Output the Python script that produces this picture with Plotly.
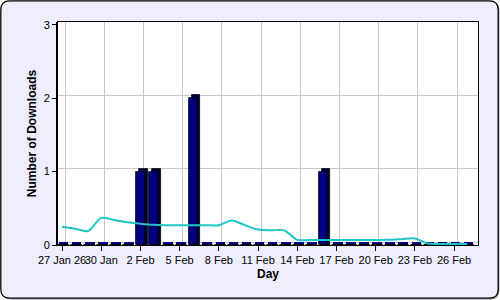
import plotly.graph_objects as go

# ---------------- data ----------------
days = ["27 Jan", "28 Jan", "29 Jan", "30 Jan", "31 Jan", "1 Feb", "2 Feb", "3 Feb",
        "4 Feb", "5 Feb", "6 Feb", "7 Feb", "8 Feb", "9 Feb", "10 Feb", "11 Feb",
        "12 Feb", "13 Feb", "14 Feb", "15 Feb", "16 Feb", "17 Feb", "18 Feb", "19 Feb",
        "20 Feb", "21 Feb", "22 Feb", "23 Feb", "24 Feb", "25 Feb", "26 Feb", "27 Feb"]
downloads = [0, 0, 0, 0, 0, 0, 1, 1, 0, 0, 2, 0, 0, 0, 0, 0,
             0, 0, 0, 0, 1, 0, 0, 0, 0, 0, 0, 0, 0, 0, 0, 0]
trend = [0.25, 0.22, 0.19, 0.37, 0.34, 0.31, 0.29, 0.275, 0.27, 0.27, 0.27, 0.27,
         0.27, 0.335, 0.27, 0.21, 0.20, 0.20, 0.07, 0.068, 0.068, 0.068, 0.068, 0.068,
         0.068, 0.07, 0.08, 0.09, 0.02, 0.015, 0.015, 0.015]
tick_days = ["27 Jan", "30 Jan", "2 Feb", "5 Feb", "8 Feb", "11 Feb", "14 Feb",
             "17 Feb", "20 Feb", "23 Feb", "26 Feb"]
tick_text = ["27 Jan 26", "30 Jan", "2 Feb", "5 Feb", "8 Feb", "11 Feb", "14 Feb",
             "17 Feb", "20 Feb", "23 Feb", "26 Feb"]
y_ticks = [0, 1, 2, 3]

# ---------------- geometry ----------------
W, H = 500, 300
L, R, T, B = 58, 22, 22, 55
pw, ph = W - L - R, H - T - B
X_RANGE = [-0.31, 31.83]
Y_RANGE = [0, 3.04]
px_day = pw / (X_RANGE[1] - X_RANGE[0])
px_unit = ph / (Y_RANGE[1] - Y_RANGE[0])
DX = 3.0 / px_day      # 3D depth offset (x) in data units
DY = 3.0 / px_unit     # 3D depth offset (y) in data units

idx = list(range(len(days)))
tick_idx = [days.index(d) for d in tick_days]

FONT = "Liberation Sans, Arial, sans-serif"
NAVY = "#000080"

fig = go.Figure()

# trend line (drawn under the bars)
fig.add_trace(go.Scatter(x=idx, y=trend, mode="lines", xaxis="x2", yaxis="y2",
                         line=dict(color="#22C4C4", width=2, shape="spline", smoothing=0.8),
                         hoverinfo="skip", showlegend=False))
# floor of the 3D bars (zero-height tops)
fig.add_trace(go.Bar(x=[i + DX / 2 for i in idx], y=[DY for _ in idx], base=0,
                     width=0.74, xaxis="x2", yaxis="y2",
                     marker=dict(color=NAVY, line=dict(width=0)),
                     showlegend=False, hoverinfo="skip"))
# back (depth) faces of the 3D bars
fig.add_trace(go.Bar(x=[i + DX for i in idx], y=[v + DY if v > 0 else 0 for v in downloads],
                     base=0, width=0.62, xaxis="x2", yaxis="y2",
                     marker=dict(color="#000040", line=dict(color="black", width=0.8)),
                     showlegend=False, hoverinfo="skip"))
# front faces
fig.add_trace(go.Bar(x=idx, y=downloads, width=0.62, xaxis="x2", yaxis="y2",
                     marker=dict(color=NAVY, line=dict(color="black", width=0.8)),
                     showlegend=False))
# dummy trace on grid axes
fig.add_trace(go.Scatter(x=[0], y=[0], mode="markers", marker=dict(opacity=0),
                         hoverinfo="skip", showlegend=False))

# paper coords helpers
def pxx(p):
    return (p - L) / pw
def pxy(p):
    return (H - B - p) / ph

def rrect(x0, y0, x1, y1, r):
    X0, X1 = pxx(x0), pxx(x1)
    Y0, Y1 = pxy(y0), pxy(y1)
    rx, ry = r / pw, r / ph
    return (f"M {X0+rx},{Y0} L {X1-rx},{Y0} Q {X1},{Y0} {X1},{Y0-ry} "
            f"L {X1},{Y1+ry} Q {X1},{Y1} {X1-rx},{Y1} L {X0+rx},{Y1} "
            f"Q {X0},{Y1} {X0},{Y1+ry} L {X0},{Y0-ry} Q {X0},{Y0} {X0+rx},{Y0} Z")

shapes = [
    dict(type="path", xref="paper", yref="paper", path=rrect(2.5, 2.5, 499.5, 299.5, 9),
         fillcolor="#9A9A9A", line=dict(width=0), layer="below"),
    dict(type="path", xref="paper", yref="paper", path=rrect(0.8, 0.8, 498.2, 298.2, 9),
         fillcolor="#EEEEFC", line=dict(color="black", width=1.3), layer="below"),
    dict(type="rect", xref="paper", yref="paper", x0=0, x1=1, y0=0, y1=1,
         fillcolor="white", line=dict(width=0), layer="below"),
    # 3D left wall double line
    dict(type="line", xref="paper", yref="paper", x0=pxx(56.5), x1=pxx(56.5),
         y0=0, y1=1, line=dict(color="black", width=1)),
]

fig.update_layout(
    width=W, height=H,
    margin=dict(l=L, r=R, t=T, b=B, autoexpand=False),
    paper_bgcolor="white",
    plot_bgcolor="rgba(0,0,0,0)",
    barmode="overlay",
    bargap=0,
    font=dict(family=FONT, size=11, color="black"),
    shapes=shapes,
    # grid axes (back wall, shifted by 3D depth)
    xaxis=dict(range=[X_RANGE[0] - DX, X_RANGE[1] - DX], tickvals=tick_idx,
               showticklabels=False, ticks="", showgrid=True, gridcolor="#C8C8C8",
               gridwidth=1, zeroline=False, showline=False, fixedrange=True,
               automargin=False),
    yaxis=dict(range=[Y_RANGE[0] - DY, Y_RANGE[1] - DY], tickvals=y_ticks,
               showticklabels=False, ticks="", showgrid=True, gridcolor="#C8C8C8",
               gridwidth=1, zeroline=False, showline=False, fixedrange=True,
               automargin=False),
    # data axes
    xaxis2=dict(overlaying="x", range=X_RANGE, tickvals=tick_idx, ticktext=tick_text,
                tickangle=0, ticks="outside", ticklen=5, tickcolor="black", showgrid=False,
                zeroline=False, showline=True, linecolor="black", linewidth=1,
                mirror=True, tickfont=dict(size=11, family=FONT), automargin=False,
                title=dict(text="<b>Day</b>", font=dict(size=12, family=FONT), standoff=4),
                fixedrange=True),
    yaxis2=dict(overlaying="y", range=Y_RANGE, tickvals=y_ticks,
                ticks="outside", ticklen=5, tickcolor="black", showgrid=False,
                zeroline=False, showline=True, linecolor="black", linewidth=1,
                mirror=True, tickfont=dict(size=11, family=FONT), automargin=False,
                title=dict(text="<b>Number of Downloads</b>", font=dict(size=12, family=FONT),
                           standoff=4),
                fixedrange=True),
)

fig.write_html("out.html")
